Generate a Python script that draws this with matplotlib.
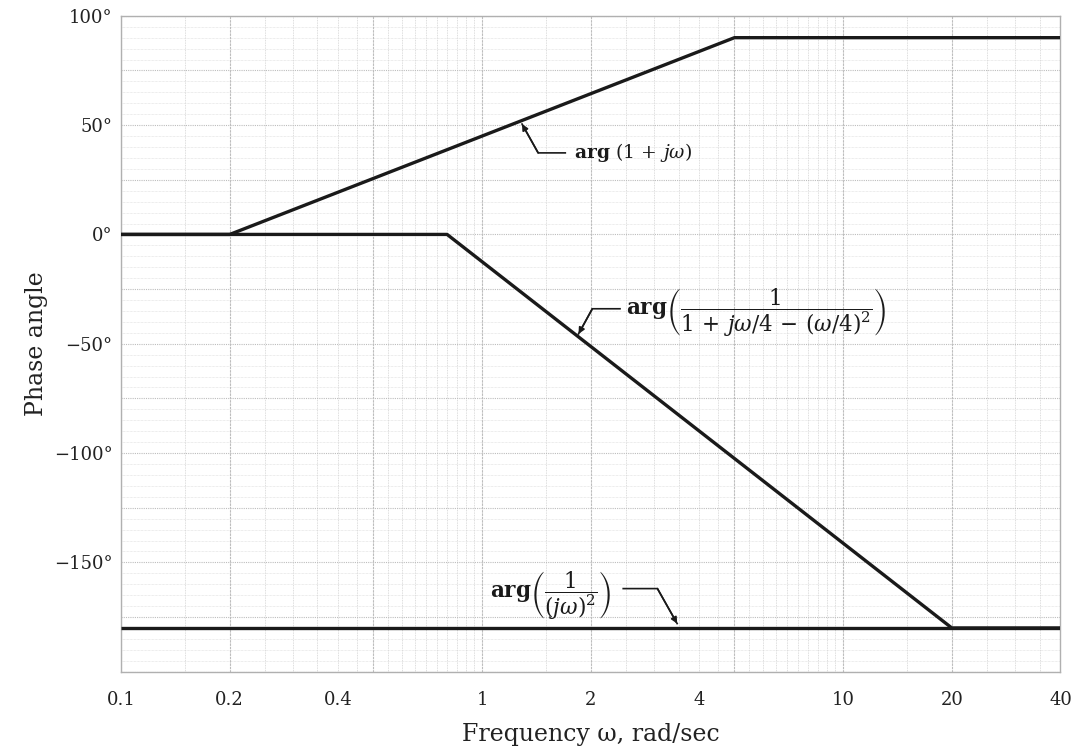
import numpy as np
import matplotlib
matplotlib.use("Agg")
import matplotlib.pyplot as plt
from matplotlib.ticker import FixedLocator, NullFormatter

plt.rcParams['font.family'] = ['DejaVu Serif']
plt.rcParams['mathtext.fontset'] = 'dejavuserif'

# Data (asymptotic phase approximations)
w_lead = [0.1, 0.2, 5.0, 40.0]
phase_lead = [0, 0, 90, 90]
w_quad = [0.1, 0.8, 20.0, 40.0]
phase_quad = [0, 0, -180, -180]
w_int = [0.1, 40.0]
phase_int = [-180, -180]

xticks = [0.1, 0.2, 0.4, 1, 2, 4, 10, 20, 40]
xticklabels = ['0.1', '0.2', '0.4', '1', '2', '4', '10', '20', '40']
yticks = [100, 50, 0, -50, -100, -150]
yticklabels = ['100°', '50°', '0°', '−50°', '−100°', '−150°']

fig = plt.figure(figsize=(10.81, 7.53), dpi=100)
ax = fig.add_axes([0.112, 0.108, 0.869, 0.871])
ax.set_xscale('log')
ax.set_xlim(0.1, 40)
ax.set_ylim(-200, 100)

# graph-paper grid
minor_x = []
for dec in [0.1, 1, 10]:
    for m in np.arange(1.0, 10.0, 0.5):
        v = dec * m
        if v <= 40:
            minor_x.append(v)
for v in minor_x:
    ax.axvline(v, color='#d2d2d2', lw=0.6, ls=(0, (1, 1)), zorder=0)
for v in np.arange(-200, 101, 5):
    lw = 0.8 if v % 25 == 0 else 0.5
    col = '#bdbdbd' if v % 25 == 0 else '#dadada'
    ax.axhline(v, color=col, lw=lw, ls=(0, (1, 1)), zorder=0)
for v in [0.1, 0.2, 0.5, 1, 2, 5, 10, 20]:
    ax.axvline(v, color='#bdbdbd', lw=0.8, ls=(0, (2, 1)), zorder=0)

ax.plot(w_lead, phase_lead, color='#1a1a1a', lw=2.4, solid_capstyle='butt', zorder=3)
ax.plot(w_quad, phase_quad, color='#1a1a1a', lw=2.4, solid_capstyle='butt', zorder=3)
ax.plot(w_int, phase_int, color='#1a1a1a', lw=2.4, solid_capstyle='butt', zorder=3)

ax.xaxis.set_major_locator(FixedLocator(xticks))
ax.set_xticklabels(xticklabels)
ax.xaxis.set_minor_formatter(NullFormatter())
ax.set_yticks(yticks)
ax.set_yticklabels(yticklabels)
ax.tick_params(which='both', length=0, labelsize=13, colors='#222222')
ax.tick_params(axis='x', pad=14)
ax.tick_params(axis='y', pad=6)
for s in ax.spines.values():
    s.set_color('#b0b0b0')
    s.set_linewidth(1.0)
    s.set_linestyle((0, (1, 1)))

ax.set_xlabel('Frequency ω, rad/sec', fontsize=17, labelpad=10, color='#222222')
ax.set_ylabel('Phase angle', fontsize=17, labelpad=4, color='#222222')

# Annotations with leader lines
def leader(points_xy, text, text_xy, fs=13):
    xs = [p[0] for p in points_xy]
    ys = [p[1] for p in points_xy]
    ax.plot(xs, ys, color='#1a1a1a', lw=1.2, zorder=4)
    ax.annotate('', xy=points_xy[-1], xytext=points_xy[-2],
                arrowprops=dict(arrowstyle='-|>', color='#1a1a1a', lw=1.2,
                                mutation_scale=9, shrinkA=0, shrinkB=0), zorder=5)
    ax.text(text_xy[0], text_xy[1], text, fontsize=fs, ha='left', va='center',
            color='#1a1a1a', zorder=5)

leader([(1.70, 37.3), (1.43, 37.3), (1.29, 50.5)],
       r'$\mathbf{arg}\ (1\,+\,j\omega)$', (1.80, 37.3), fs=13.5)
leader([(2.41, -34), (2.02, -34), (1.85, -45.5)],
       r'$\mathbf{arg}\left(\dfrac{1}{1\,+\,j\omega/4\,-\,(\omega/4)^2}\right)$', (2.50, -36), fs=15.5)
leader([(2.46, -162), (3.06, -162), (3.47, -178)],
       r'$\mathbf{arg}\left(\dfrac{1}{(j\omega)^2}\right)$', (1.05, -165.5), fs=15.5)

fig.savefig('out.png', dpi=100)
